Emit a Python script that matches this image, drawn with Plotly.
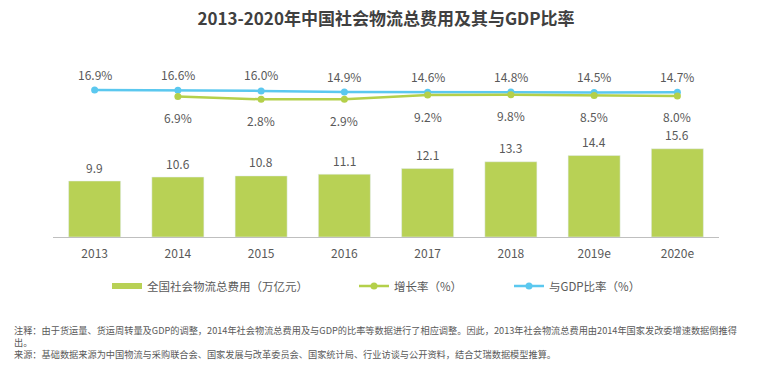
import plotly.graph_objects as go

categories = ["2013", "2014", "2015", "2016", "2017", "2018", "2019e", "2020e"]
total_cost = [9.9, 10.6, 10.8, 11.1, 12.1, 13.3, 14.4, 15.6]          # 万亿元
growth_rate = [None, 6.9, 2.8, 2.9, 9.2, 9.8, 8.5, 8.0]               # %
gdp_ratio = [16.9, 16.6, 16.0, 14.9, 14.6, 14.8, 14.5, 14.7]          # %

name_cost = "全国社会物流总费用（万亿元）"
name_growth = "增长率（%）"
name_ratio = "与GDP比率（%）"

BAR_C = "#B8D155"
GREEN_C = "#B4D04A"
BLUE_C = "#5BC8EF"
TXT_C = "#595959"
FONT = "Noto Sans CJK SC"

OFF = 8                      # page body margin offset
W, H = 762 - OFF, 369 - OFF
L, R, T, B = 53 - OFF, 43, 60 - OFF, 132
plot_w = W - L - R
plot_h = H - T - B
plot_bottom = H - B          # in figure px


def py(ref_y):
    """reference-page y pixel -> paper y"""
    return -((ref_y - OFF) - plot_bottom) / plot_h


def px(ref_x):
    return ((ref_x - OFF) - L) / plot_w


fig = go.Figure()

fig.add_trace(go.Bar(
    x=categories, y=total_cost, name=name_cost, marker_color=BAR_C,
    showlegend=False, yaxis="y",
))
# legend-only entry styled as a flat bar swatch
fig.add_trace(go.Scatter(
    x=[categories[0]], y=[None], mode="lines", name=name_cost,
    line=dict(color=BAR_C, width=6), legend="legend", yaxis="y",
))
fig.add_trace(go.Scatter(
    x=categories, y=growth_rate, name=name_growth, mode="lines+markers",
    line=dict(color=GREEN_C, width=2.5), marker=dict(size=7, color=GREEN_C),
    yaxis="y3", legend="legend2", connectgaps=False,
))
fig.add_trace(go.Scatter(
    x=categories, y=gdp_ratio, name=name_ratio, mode="lines+markers",
    line=dict(color=BLUE_C, width=2.5), marker=dict(size=7, color=BLUE_C),
    yaxis="y2", legend="legend3",
))

ann = []
for i, v in enumerate(total_cost):
    ann.append(dict(x=i, y=v, xref="x", yref="y", text=f"{v:.1f}", showarrow=False,
                    yanchor="middle", yshift=14, font=dict(size=12, color=TXT_C, family=FONT)))
for i, v in enumerate(gdp_ratio):
    ann.append(dict(x=i, y=v, xref="x", yref="y2", text=f"{v:.1f}%", showarrow=False,
                    yanchor="middle", yshift=16, font=dict(size=12, color=TXT_C, family=FONT)))
for i, v in enumerate(growth_rate):
    if v is None:
        continue
    ann.append(dict(x=i, y=v, xref="x", yref="y3", text=f"{v:.1f}%", showarrow=False,
                    yanchor="middle", yshift=-21, font=dict(size=12, color=TXT_C, family=FONT)))

note = ("注释：由于货运量、货运周转量及GDP的调整，2014年社会物流总费用及与GDP的比率等数据进行了相应调整。因此，2013年社会物流总费用由2014年国家发改委增速数据倒推得"
        "<br>出。<br>来源：基础数据来源为中国物流与采购联合会、国家发展与改革委员会、国家统计局、行业访谈与公开资料，结合艾瑞数据模型推算。")
ann.append(dict(x=px(12), y=py(321), xref="paper", yref="paper",
                text=note, showarrow=False, xanchor="left", yanchor="top", align="left",
                font=dict(size=9.2, color=TXT_C, family=FONT)))


def leg(text_start):
    return dict(orientation="h", x=px(text_start - 40), xanchor="left",
                y=py(286), yanchor="middle", bgcolor="rgba(0,0,0,0)", borderwidth=0,
                itemwidth=30, font=dict(size=11.5, color=TXT_C, family=FONT))


fig.update_layout(
    width=W, height=H,
    margin=dict(l=L, r=R, t=T, b=B),
    paper_bgcolor="white", plot_bgcolor="white",
    font=dict(family=FONT, color=TXT_C),
    title=dict(text="<b>2013-2020年中国社会物流总费用及其与GDP比率</b>",
               x=0.5, xanchor="center", xref="paper", y=1 - (19 - OFF) / H, yanchor="middle",
               yref="container", font=dict(size=17, color="#404040", family=FONT)),
    bargap=0.375,
    xaxis=dict(type="category", categoryorder="array", categoryarray=categories,
               range=[-0.5, len(categories) - 0.5], fixedrange=True,
               showgrid=False, showline=True, linecolor="#BFBFBF", linewidth=1,
               ticks="", tickfont=dict(size=12, color=TXT_C, family=FONT), ticklabelstandoff=6,
               zeroline=False),
    yaxis=dict(range=[0, plot_h / 5.657], visible=False, showgrid=False, zeroline=False),
    yaxis2=dict(range=[16.9 - 147 / 1.0, 16.9 - 147 / 1.0 + plot_h / 1.0], overlaying="y",
                visible=False, showgrid=False, zeroline=False),
    yaxis3=dict(range=[9.8 - 142.3 / 0.66, 9.8 - 142.3 / 0.66 + plot_h / 0.66], overlaying="y",
                visible=False, showgrid=False, zeroline=False),
    legend=leg(147),
    legend2=leg(394),
    legend3=leg(549),
    annotations=ann,
    showlegend=True,
)

fig.write_html("out.html")
